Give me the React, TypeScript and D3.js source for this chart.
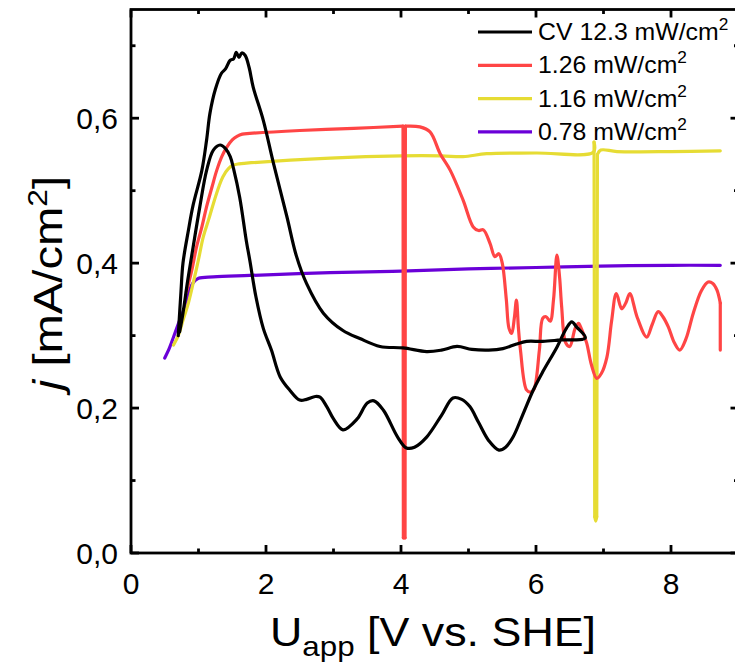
import React from "react";
import * as d3 from "d3";

type P = [number, number];

const blackCV: P[] = [
  [0.7, 0.3], [0.74, 0.36], [0.77, 0.4], [0.85, 0.445], [0.92, 0.48], [1.05, 0.528], [1.12, 0.57],
  [1.17, 0.607], [1.25, 0.64], [1.34, 0.662], [1.4, 0.668], [1.47, 0.68], [1.52, 0.682], [1.56, 0.691],
  [1.6, 0.684], [1.64, 0.69], [1.69, 0.687], [1.75, 0.67], [1.81, 0.643], [1.96, 0.597], [2.11, 0.538],
  [2.31, 0.464], [2.45, 0.41], [2.6, 0.372], [2.85, 0.331], [3.14, 0.307], [3.39, 0.296], [3.69, 0.285],
  [4.03, 0.283], [4.38, 0.278], [4.6, 0.28], [4.83, 0.285], [5.05, 0.281], [5.3, 0.28], [5.51, 0.282],
  [5.7, 0.288], [5.86, 0.292], [6.1, 0.292], [6.36, 0.294], [6.73, 0.297],
  [6.6, 0.312], [6.53, 0.319], [6.45, 0.31], [6.31, 0.284], [6.1, 0.25], [5.96, 0.225], [5.8, 0.19],
  [5.66, 0.16], [5.55, 0.146], [5.45, 0.142], [5.3, 0.155], [5.15, 0.18], [5.02, 0.202], [4.9, 0.212],
  [4.77, 0.214], [4.6, 0.19], [4.38, 0.16], [4.2, 0.146], [4.08, 0.145], [3.95, 0.16], [3.74, 0.197],
  [3.6, 0.21], [3.5, 0.207], [3.35, 0.185], [3.14, 0.17], [3.0, 0.185], [2.9, 0.202], [2.8, 0.215],
  [2.73, 0.216], [2.6, 0.212], [2.5, 0.211], [2.35, 0.225], [2.21, 0.243], [2.08, 0.28], [1.96, 0.31],
  [1.85, 0.354], [1.76, 0.404], [1.71, 0.43], [1.61, 0.491], [1.52, 0.53], [1.47, 0.547], [1.4, 0.558],
  [1.32, 0.563], [1.22, 0.556], [1.12, 0.528], [1.02, 0.478], [0.92, 0.422], [0.84, 0.376], [0.77, 0.331],
  [0.72, 0.305],
];

const red126: P[] = [
  [0.82, 0.36], [0.9, 0.39], [0.97, 0.422], [1.05, 0.45], [1.12, 0.478], [1.2, 0.505], [1.27, 0.528],
  [1.35, 0.548], [1.42, 0.56], [1.5, 0.57], [1.57, 0.575], [1.65, 0.578], [1.76, 0.579], [2.5, 0.583],
  [3.3, 0.586], [4.03, 0.589], [4.035, 0.021], [4.06, 0.021], [4.065, 0.589], [4.28, 0.588], [4.43, 0.581],
  [4.58, 0.551], [4.73, 0.528], [4.92, 0.487], [5.07, 0.45], [5.15, 0.445], [5.22, 0.446], [5.32, 0.427],
  [5.39, 0.409], [5.45, 0.413], [5.5, 0.4], [5.56, 0.35], [5.6, 0.31], [5.64, 0.303], [5.68, 0.325],
  [5.71, 0.349], [5.74, 0.31], [5.77, 0.28], [5.86, 0.225], [5.92, 0.222], [5.97, 0.226], [6.05, 0.28],
  [6.1, 0.324], [6.15, 0.326], [6.21, 0.32], [6.26, 0.35], [6.31, 0.411], [6.35, 0.38], [6.38, 0.34],
  [6.44, 0.29], [6.5, 0.285], [6.58, 0.31], [6.63, 0.317], [6.67, 0.31], [6.75, 0.29], [6.82, 0.26],
  [6.9, 0.241], [6.97, 0.248], [7.05, 0.27], [7.12, 0.32], [7.19, 0.358], [7.27, 0.337], [7.33, 0.345],
  [7.39, 0.358], [7.5, 0.325], [7.64, 0.298], [7.72, 0.315], [7.81, 0.333], [7.88, 0.326], [7.96, 0.312],
  [8.05, 0.29], [8.13, 0.28], [8.22, 0.295], [8.33, 0.331], [8.45, 0.362], [8.55, 0.374], [8.62, 0.372],
  [8.68, 0.363], [8.73, 0.345], [8.73, 0.28],
];

const yellow116: P[] = [
  [0.63, 0.287], [0.7, 0.3], [0.77, 0.321], [0.85, 0.345], [0.92, 0.372], [1.0, 0.405], [1.07, 0.436],
  [1.15, 0.46], [1.22, 0.482], [1.3, 0.505], [1.36, 0.519], [1.44, 0.53], [1.51, 0.535], [1.6, 0.537],
  [1.71, 0.538], [2.95, 0.545], [4.0, 0.548], [4.6, 0.548], [4.92, 0.547], [5.27, 0.551], [6.0, 0.552],
  [6.85, 0.553], [6.86, 0.567], [6.87, 0.05], [6.885, 0.044], [6.9, 0.05], [6.91, 0.55], [6.96, 0.556],
  [7.2, 0.554], [8.0, 0.554], [8.73, 0.555],
];

const purple078: P[] = [
  [0.5, 0.269], [0.57, 0.283], [0.63, 0.298], [0.7, 0.316], [0.78, 0.335], [0.84, 0.352], [0.87, 0.363],
  [0.92, 0.373], [1.0, 0.379], [1.22, 0.381], [1.76, 0.383], [2.95, 0.387], [4.0, 0.389], [5.0, 0.392],
  [6.0, 0.394], [6.95, 0.396], [8.0, 0.397], [8.73, 0.397],
];

const seriesNames = ["CV 12.3 mW/cm", "1.26 mW/cm", "1.16 mW/cm", "0.78 mW/cm"];
const seriesColors = ["#000000", "#ff4545", "#e6dc34", "#6a00d8"];
const seriesData = [blackCV, red126, yellow116, purple078];

const xTickValues = [0, 2, 4, 6, 8];
const xMinorValues = [1, 3, 5, 7, 9];
const yTickValues = [0, 0.2, 0.4, 0.6];
const yMinorValues = [0.1, 0.3, 0.5, 0.7];
const yTickLabels = ["0,0", "0,2", "0,4", "0,6"];

const W = 735, H = 671;
const L = 131, R = 738.5, T = 9.5, B = 553;
const FONT = "Liberation Sans, Arial, sans-serif";

// split a series into smooth runs and straight (vertical-jump) edges
function pieces(pts: P[]): { pts: P[]; straight: boolean }[] {
  const out: { pts: P[]; straight: boolean }[] = [];
  let cur: P[] = [pts[0]];
  for (let i = 0; i < pts.length - 1; i++) {
    const a = pts[i], b = pts[i + 1];
    const spike = Math.abs(b[0] - a[0]) < 0.03 && Math.abs(b[1] - a[1]) > 0.05;
    if (spike) {
      if (cur.length > 1) out.push({ pts: cur, straight: false });
      out.push({ pts: [a, b], straight: true });
      cur = [b];
    } else cur.push(b);
  }
  if (cur.length > 1) out.push({ pts: cur, straight: false });
  return out;
}

export default function App() {
  const x = d3.scaleLinear().domain([0, 9]).range([L, R]);
  const y = d3.scaleLinear().domain([0, 0.75]).range([B, T]);
  const smooth = d3.line<P>().x((d) => x(d[0])).y((d) => y(d[1])).curve(d3.curveCatmullRom.alpha(0.5));
  const straight = d3.line<P>().x((d) => x(d[0])).y((d) => y(d[1]));
  const major = 8, minor = 4.5, sw = 2.8;

  return (
    <svg width={W} height={H} style={{ position: "absolute", left: 0, top: 0, background: "#fff" }}>
      <defs>
        <clipPath id="plot">
          <rect x={L} y={T} width={R - L} height={B - T} />
        </clipPath>
      </defs>
      <g clipPath="url(#plot)">
        {[3, 2, 1, 0].map((i) => (
          <g key={i}>
            {pieces(seriesData[i]).map((p, k) => (
              <path key={k} d={(p.straight ? straight(p.pts) : smooth(p.pts)) || ""} fill="none"
                stroke={seriesColors[i]} strokeWidth={3.2} strokeLinejoin="round" strokeLinecap="round" />
            ))}
          </g>
        ))}
      </g>
      <rect x={L} y={T} width={R - L} height={B - T} fill="none" stroke="#000" strokeWidth={sw} />
      {xTickValues.map((v) => (
        <g key={"xt" + v}>
          <line x1={x(v)} x2={x(v)} y1={B} y2={B - major} stroke="#000" strokeWidth={sw} />
          <line x1={x(v)} x2={x(v)} y1={T} y2={T + major} stroke="#000" strokeWidth={sw} />
          <text x={x(v)} y={B + 41} textAnchor="middle" fontFamily={FONT} fontSize={30}>{v}</text>
        </g>
      ))}
      {xMinorValues.map((v) => (
        <g key={"xm" + v}>
          <line x1={x(v)} x2={x(v)} y1={B} y2={B - minor} stroke="#000" strokeWidth={sw} />
          <line x1={x(v)} x2={x(v)} y1={T} y2={T + minor} stroke="#000" strokeWidth={sw} />
        </g>
      ))}
      {yTickValues.map((v, i) => (
        <g key={"yt" + v}>
          <line x1={L} x2={L + major} y1={y(v)} y2={y(v)} stroke="#000" strokeWidth={sw} />
          <line x1={R} x2={R - major} y1={y(v)} y2={y(v)} stroke="#000" strokeWidth={sw} />
          <text x={L - 13} y={y(v) + 11} textAnchor="end" fontFamily={FONT} fontSize={30}>{yTickLabels[i]}</text>
        </g>
      ))}
      {yMinorValues.map((v) => (
        <g key={"ym" + v}>
          <line x1={L} x2={L + minor} y1={y(v)} y2={y(v)} stroke="#000" strokeWidth={sw} />
          <line x1={R} x2={R - minor} y1={y(v)} y2={y(v)} stroke="#000" strokeWidth={sw} />
        </g>
      ))}
      <text transform="translate(433,646) scale(1.12,1)" textAnchor="middle" fontFamily={FONT} fontSize={40}>
        U<tspan fontSize={28} dy={10}>app</tspan><tspan dy={-10}> [V vs. SHE]</tspan>
      </text>
      <text transform={`translate(62,283) rotate(-90) scale(1.18,1)`} textAnchor="middle" fontFamily={FONT} fontSize={40}>
        <tspan fontStyle="italic">j</tspan> [mA/cm<tspan fontSize={27} dy={-15}>2</tspan><tspan dy={15}>]</tspan>
      </text>
      {seriesNames.map((n, i) => {
        const ly = 32 + i * 33.3;
        return (
          <g key={"lg" + i}>
            <line x1={478} x2={532} y1={ly} y2={ly} stroke={seriesColors[i]} strokeWidth={3.2} />
            <text transform={`translate(538,${ly + 8}) scale(1.08,1)`} fontFamily={FONT} fontSize={23}>
              {n}<tspan fontSize={16} dy={-10}>2</tspan>
            </text>
          </g>
        );
      })}
    </svg>
  );
}
